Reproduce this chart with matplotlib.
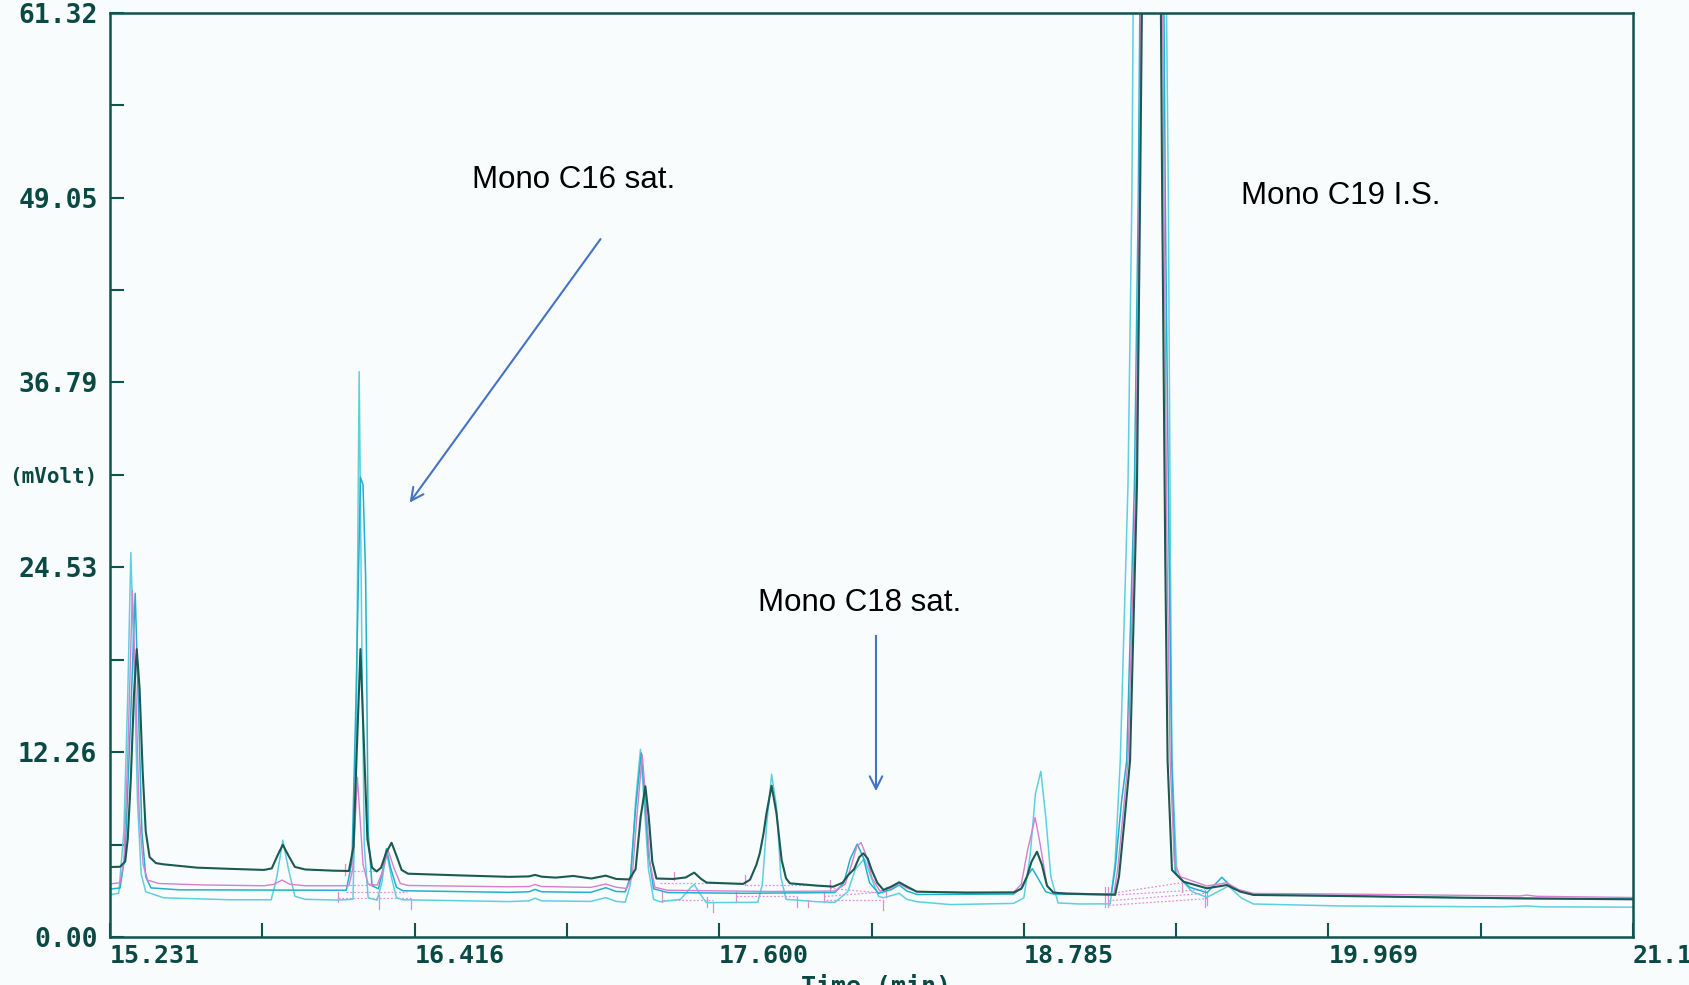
import matplotlib
matplotlib.use("Agg")
import matplotlib.pyplot as plt

# chromatogram traces: (time in min, signal in mV)
dark_t = [15.231, 15.27, 15.29, 15.30, 15.312, 15.324, 15.335, 15.346, 15.358, 15.37, 15.385, 15.41,
          15.44, 15.57, 15.70, 15.83, 15.86, 15.885, 15.903, 15.925, 15.95, 15.99, 16.10, 16.16,
          16.178, 16.19, 16.205, 16.218, 16.232, 16.25, 16.268, 16.285, 16.305, 16.326, 16.345, 16.365,
          16.39, 16.585, 16.784, 16.86, 16.884, 16.91, 16.964, 17.033, 17.103, 17.159, 17.20, 17.25,
          17.275, 17.295, 17.313, 17.326, 17.34, 17.356, 17.421, 17.47, 17.503, 17.53, 17.551, 17.693,
          17.72, 17.745, 17.758, 17.772, 17.784, 17.804, 17.823, 17.843, 17.86, 17.875, 17.979, 18.044,
          18.08, 18.102, 18.125, 18.145, 18.161, 18.178, 18.193, 18.215, 18.239, 18.27, 18.30, 18.33,
          18.368, 18.563, 18.745, 18.775, 18.797, 18.815, 18.836, 18.855, 18.875, 18.90, 18.95, 19.10,
          19.14, 19.155, 19.175, 19.198, 19.225, 19.237, 19.244, 19.28, 19.318, 19.323, 19.335, 19.344,
          19.361, 19.406, 19.497, 19.54, 19.574, 19.626, 19.678, 20.015, 20.343, 20.74, 21.154]
dark_v = [4.64, 4.66, 5.0, 6.5, 10.5, 16.0, 19.1, 16.5, 11.0, 7.0, 5.3, 4.9,
          4.82, 4.60, 4.52, 4.45, 4.55, 5.5, 6.12, 5.4, 4.65, 4.48, 4.40, 4.38,
          6.0, 12.0, 19.1, 13.0, 6.5, 4.6, 4.35, 4.6, 5.6, 6.25, 5.4, 4.45,
          4.20, 4.09, 3.99, 4.02, 4.12, 4.00, 3.94, 4.05, 3.88, 4.07, 3.85, 3.82,
          4.5, 8.0, 10.0, 8.0, 5.0, 3.88, 3.85, 3.95, 4.27, 3.85, 3.61, 3.52,
          3.8, 4.8, 5.55, 6.8, 8.2, 10.04, 8.2, 5.11, 3.9, 3.56, 3.41, 3.34,
          3.6, 4.11, 4.5, 5.3, 5.55, 5.2, 4.45, 3.6, 3.12, 3.35, 3.63, 3.35,
          3.01, 2.94, 2.96, 3.2, 4.0, 5.0, 5.66, 4.8, 3.4, 2.95, 2.88, 2.82,
          2.80, 4.0, 7.5, 11.7, 30.0, 49.0, 61.3, 140.0, 61.3, 49.0, 25.0, 11.7,
          4.44, 3.67, 3.23, 3.35, 3.45, 3.01, 2.79, 2.72, 2.64, 2.56, 2.50]

magenta_t = [15.231, 15.27, 15.285, 15.30, 15.318, 15.332, 15.345, 15.36, 15.377, 15.42, 15.60, 15.83,
             15.87, 15.90, 15.93, 15.99, 16.16, 16.175, 16.184, 16.193, 16.203, 16.215, 16.235, 16.27,
             16.29, 16.313, 16.335, 16.36, 16.39, 16.784, 16.86, 16.884, 16.91, 17.10, 17.159, 17.20,
             17.24, 17.262, 17.28, 17.301, 17.315, 17.33, 17.35, 17.40, 17.80, 18.05, 18.09, 18.115,
             18.135, 18.152, 18.17, 18.195, 18.225, 18.27, 18.30, 18.33, 18.37, 18.745, 18.775, 18.80,
             18.829, 18.85, 18.875, 18.90, 19.10, 19.135, 19.15, 19.17, 19.19, 19.22, 19.234, 19.240,
             19.28, 19.325, 19.33, 19.342, 19.354, 19.37, 19.393, 19.497, 19.574, 19.62, 19.678, 20.015,
             20.40, 20.715, 20.74, 20.78, 21.154]
magenta_v = [3.52, 3.6, 5.0, 12.0, 23.0, 16.0, 8.0, 4.8, 3.78, 3.55, 3.45, 3.40,
             3.50, 3.78, 3.50, 3.40, 3.40, 4.5, 7.5, 10.6, 8.0, 4.8, 3.5, 3.45,
             4.3, 5.73, 4.6, 3.55, 3.42, 3.33, 3.35, 3.48, 3.35, 3.29, 3.51, 3.30,
             3.22, 4.0, 8.0, 12.08, 9.0, 5.0, 3.3, 3.10, 3.02, 3.05, 3.5, 4.8,
             6.0, 6.26, 5.5, 3.9, 3.05, 3.25, 3.56, 3.25, 3.0, 2.95, 3.5, 5.8,
             7.93, 6.0, 3.4, 2.92, 2.85, 2.85, 4.5, 8.0, 11.7, 30.0, 49.0, 61.3,
             140.0, 61.3, 49.0, 25.0, 11.7, 5.0, 4.0, 3.38, 3.60, 3.15, 2.89, 2.85,
             2.78, 2.72, 2.78, 2.70, 2.62]

cyan_t = [15.231, 15.27, 15.29, 15.31, 15.329, 15.342, 15.355, 15.37, 15.39, 15.50, 16.15, 16.172,
          16.188, 16.205, 16.215, 16.225, 16.229, 16.235, 16.25, 16.275, 16.29, 16.306, 16.322, 16.345,
          16.37, 16.784, 16.86, 16.884, 16.91, 17.10, 17.159, 17.20, 17.235, 17.255, 17.275, 17.297,
          17.31, 17.325, 17.345, 17.40, 17.70, 18.05, 18.085, 18.11, 18.137, 18.16, 18.185, 18.22,
          18.27, 18.30, 18.33, 18.37, 18.745, 18.78, 18.80, 18.818, 18.84, 18.87, 18.90, 19.10,
          19.125, 19.14, 19.165, 19.185, 19.215, 19.23, 19.236, 19.28, 19.33, 19.335, 19.35, 19.36,
          19.374, 19.43, 19.497, 19.555, 19.60, 19.678, 20.015, 20.64, 21.154]
cyan_v = [3.18, 3.25, 5.5, 14.0, 22.8, 15.0, 7.0, 4.0, 3.26, 3.13, 3.10, 5.0,
          16.0, 30.5, 30.0, 24.0, 18.0, 7.0, 3.4, 3.2, 4.3, 5.86, 4.6, 3.3,
          3.07, 2.96, 3.0, 3.16, 3.0, 2.96, 3.27, 3.02, 3.0, 4.0, 8.5, 12.2,
          9.5, 5.5, 3.2, 2.95, 2.90, 2.95, 3.6, 5.2, 6.16, 5.3, 3.6, 2.9,
          3.15, 3.45, 3.05, 2.82, 2.85, 3.3, 4.1, 4.53, 3.9, 3.0, 2.85, 2.80,
          2.85, 4.5, 9.0, 11.7, 30.0, 49.0, 61.3, 140.0, 61.3, 49.0, 25.0, 11.7,
          4.22, 3.3, 2.94, 3.96, 3.2, 2.8, 2.74, 2.56, 2.52]

light_t = [15.231, 15.265, 15.285, 15.30, 15.312, 15.325, 15.338, 15.352, 15.37, 15.44, 15.70, 15.858,
           15.88, 15.903, 15.925, 15.95, 15.99, 16.12, 16.176, 16.188, 16.200, 16.210, 16.22, 16.235,
           16.27, 16.288, 16.306, 16.325, 16.345, 16.37, 16.784, 16.86, 16.884, 16.91, 17.10, 17.159,
           17.20, 17.235, 17.255, 17.275, 17.294, 17.308, 17.325, 17.345, 17.37, 17.45, 17.49, 17.503,
           17.52, 17.55, 17.75, 17.768, 17.785, 17.804, 17.823, 17.84, 17.86, 17.98, 18.05, 18.10,
           18.13, 18.165, 18.19, 18.22, 18.239, 18.28, 18.30, 18.33, 18.37, 18.50, 18.745, 18.785,
           18.81, 18.83, 18.851, 18.87, 18.89, 18.918, 19.0, 19.121, 19.14, 19.16, 19.19, 19.205,
           19.21, 19.27, 19.340, 19.347, 19.355, 19.361, 19.380, 19.44, 19.497, 19.581, 19.63, 19.678,
           20.015, 20.64, 20.74, 20.80, 21.154]
light_v = [2.81, 2.9, 7.0, 16.0, 25.5, 18.0, 9.0, 4.2, 3.0, 2.60, 2.47, 2.47,
           4.0, 6.43, 4.5, 2.7, 2.50, 2.45, 2.5, 12.0, 37.5, 20.0, 6.0, 2.6,
           2.45, 3.6, 5.7, 4.0, 2.6, 2.47, 2.35, 2.4, 2.57, 2.4, 2.36, 2.61,
           2.36, 2.31, 3.5, 9.0, 12.45, 9.0, 4.5, 2.5, 2.34, 2.5, 3.3, 3.49,
           3.0, 2.28, 2.3, 3.5, 7.5, 10.79, 8.65, 4.0, 2.5, 2.34, 2.3, 3.0,
           4.5, 5.2, 4.0, 2.7, 2.6, 2.8, 2.9, 2.5, 2.34, 2.15, 2.23, 2.6,
           5.5, 9.5, 10.99, 8.0, 4.0, 2.26, 2.19, 2.2, 5.0, 11.7, 30.0, 49.0,
           61.3, 140.0, 61.3, 49.0, 25.0, 11.7, 4.11, 3.0, 2.63, 3.38, 2.6, 2.19,
           2.06, 2.0, 2.06, 2.0, 1.98]

# integration baselines (t1, v1, t2, v2) and peak start/end marks (t, low, high)
base_lines = [(16.147, 4.36, 16.267, 4.36), (16.147, 3.44, 16.267, 3.44), (16.117, 2.61, 16.406, 2.61),
              (16.147, 2.96, 16.386, 2.96), (17.369, 3.61, 17.706, 3.61), (17.382, 2.46, 17.577, 2.46),
              (17.706, 3.45, 18.031, 3.45), (17.667, 2.72, 17.901, 2.72), (18.031, 3.23, 18.239, 2.90),
              (18.008, 2.68, 18.249, 3.01), (18.017, 2.46, 18.239, 2.46), (19.108, 2.85, 19.40, 3.60),
              (19.108, 2.75, 19.49, 3.15), (19.115, 2.40, 19.49, 2.90), (19.115, 2.10, 19.50, 2.55)]
peak_marks = [(16.143, 4.14, 4.86), (16.117, 2.35, 3.00), (16.277, 1.87, 2.79), (16.402, 1.87, 2.53),
              (17.423, 3.79, 4.34), (17.379, 2.35, 3.01), (17.553, 2.01, 2.68), (17.577, 1.68, 2.34),
              (17.700, 3.45, 4.11), (17.667, 2.35, 3.01), (17.901, 2.01, 2.68), (17.947, 2.01, 2.45),
              (18.031, 3.01, 3.78), (18.008, 2.35, 2.90), (18.239, 1.79, 2.45), (18.249, 2.68, 3.34),
              (19.101, 2.01, 3.34), (19.114, 2.01, 3.34), (19.399, 3.01, 3.56), (19.490, 2.01, 3.12),
              (19.499, 2.10, 3.00)]

x_ticks = [15.231, 15.823, 16.416, 17.008, 17.600, 18.193, 18.785, 19.377, 19.969, 20.561, 21.154]
x_labels = ["15.231", "", "16.416", "", "17.600", "", "18.785", "", "19.969", "", "21.154"]
y_ticks = [0.0, 6.13, 12.26, 18.40, 24.53, 30.66, 36.79, 42.92, 49.05, 55.19, 61.32]
y_labels = ["0.00", "", "12.26", "", "24.53", "(mVolt)", "36.79", "", "49.05", "", "61.32"]

AXC = "#0e554f"
LBL = "#0b4a44"
BG = "#f9fcfd"

fig = plt.figure(figsize=(16.89, 9.85), dpi=100, facecolor=BG)
ax = fig.add_axes([110 / 1689, 1 - 937 / 985, 1523 / 1689, 924.3 / 985], facecolor=BG)

for t1, v1, t2, v2 in base_lines:
    ax.plot([t1, t2], [v1, v2], color="#e48fdc", lw=0.9, ls=(0, (1.5, 1.5)))
for t, lo, hi in peak_marks:
    ax.plot([t, t], [lo, hi], color="#e08ad8", lw=0.9)

line_kw = dict(solid_joinstyle="round", solid_capstyle="round")
ax.plot(light_t, light_v, color="#5fcfe0", lw=1.1, **line_kw)
ax.plot(cyan_t, cyan_v, color="#22b0cc", lw=1.1, **line_kw)
ax.plot(magenta_t, magenta_v, color="#d57fce", lw=1.0, **line_kw)
ax.plot(dark_t, dark_v, color="#1b5a52", lw=1.5, **line_kw)

ax.set_xlim(15.231, 21.154)
ax.set_ylim(0, 61.32)
ax.set_xticks(x_ticks)
ax.set_xticklabels(x_labels)
ax.set_yticks(y_ticks)
ax.set_yticklabels(y_labels)
ax.tick_params(direction="in", length=10, width=1.5, color=AXC, labelcolor=LBL)
ax.tick_params(axis="y", pad=9)
ax.tick_params(axis="x", pad=5)
for lab in ax.get_xticklabels():
    lab.set_horizontalalignment("left")
    lab.set_fontfamily("DejaVu Sans Mono")
    lab.set_fontweight("bold")
    lab.set_fontsize(18)
for lab in ax.get_yticklabels():
    lab.set_fontfamily("DejaVu Sans Mono")
    lab.set_fontweight("bold")
    lab.set_fontsize(15 if lab.get_text() == "(mVolt)" else 19)
for s in ax.spines.values():
    s.set_color(AXC)
    s.set_linewidth(1.8)

fig.text(876 / 1689, 1 - 975 / 985, "Time (min)", ha="center", va="top",
         family="DejaVu Sans Mono", weight="bold", fontsize=18, color=LBL)

# peak annotations
arrow_c = "#4472c4"
txt = dict(family="Liberation Sans", fontsize=22.5, color="black", va="baseline")
ax.text(16.639, 49.70, "Mono C16 sat.", **txt)
ax.text(17.75, 21.60, "Mono C18 sat.", **txt)
ax.text(19.631, 48.64, "Mono C19 I.S.", **txt)
ax.annotate("", xy=(16.39, 28.67), xytext=(17.145, 46.45),
            arrowprops=dict(arrowstyle="->,head_length=0.9,head_width=0.45", color=arrow_c, lw=1.5))
ax.annotate("", xy=(18.21, 9.49), xytext=(18.21, 20.17),
            arrowprops=dict(arrowstyle="->,head_length=0.9,head_width=0.45", color=arrow_c, lw=1.5))

fig.savefig("out.png", dpi=100, facecolor=BG)
